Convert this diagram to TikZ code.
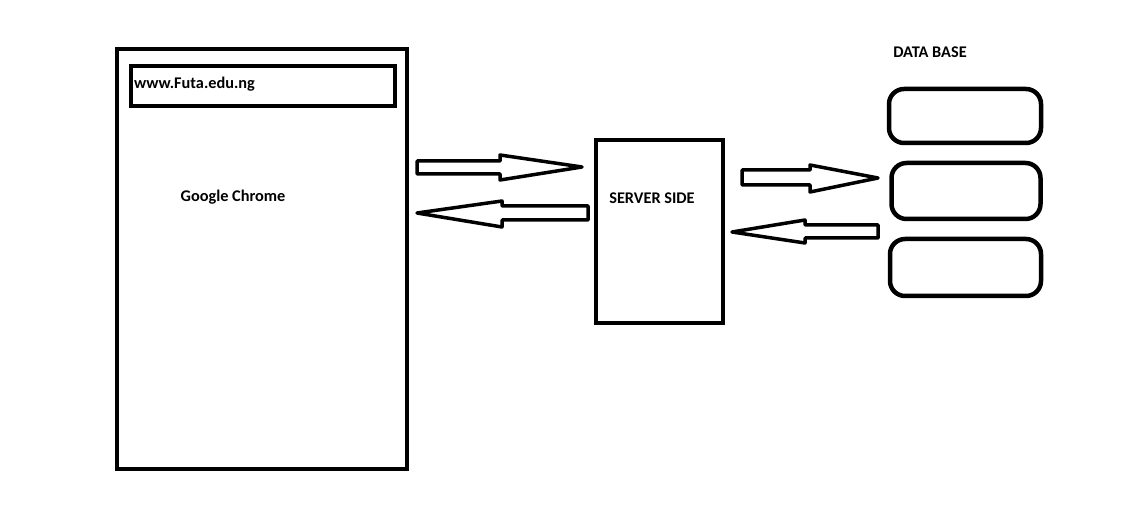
\documentclass[tikz,border=0pt]{standalone}
\usepackage{fontspec}
\setmainfont{Carlito}
\usepackage{tikz}

\tikzset{
  box/.style={draw, line width=4pt, rectangle, inner sep=0pt},
  dbbox/.style={draw, line width=4.5pt, rectangle, rounded corners=15pt, inner sep=0pt},
  lbl/.style={font=\fontsize{16.3}{19}\selectfont\bfseries, inner sep=0pt},
  fat/.style={draw, line width=3.5pt, line join=round}
}

\begin{document}
\begin{tikzpicture}[x=1pt, y=-1pt]
      \useasboundingbox (0,0) rectangle (1122,518);

      % browser window
      \node[box, minimum width=290pt, minimum height=420pt] (browser) at (262,259) {};
      \node[box, minimum width=264pt, minimum height=40pt] (urlbar) at (263,86) {};
      \node[lbl, anchor=west] (url) at (134,84) {www.Futa.edu.ng};
      \node[lbl] (chrome) at (233,197) {Google Chrome};

      % server
      \node[box, minimum width=127pt, minimum height=183pt] (server) at (659,231.5) {};
      \node[lbl] (servertext) at (652,198) {SERVER SIDE};

      % data base
      \node[lbl] (dbtext) at (930,52) {DATA BASE};
      \foreach \i/\x/\y/\w/\h in {1/965/116/152/54, 2/966/191/149/56, 3/965.5/267.5/151/57}
      {
        \node[dbbox, minimum width=\w pt, minimum height=\h pt] (db\i) at (\x,\y) {};
      }

      % block arrows: tail x / head x / tip x / shaft top / shaft bottom / head top / head bottom / tip y
      \foreach \tx/\hx/\px/\st/\sb/\ht/\hb/\py in
        {417/500/582/161/174/155/180/167, 588/502/417/206/220/201/227/213,
         742/810/878/170/185/165/192/178, 878/805/732/225/238/220/243/232}
      {
        \draw[fat] (\tx,\st) -- (\hx,\st) -- (\hx,\ht) -- (\px,\py)
          -- (\hx,\hb) -- (\hx,\sb) -- (\tx,\sb) -- cycle;
      }
\end{tikzpicture}
\end{document}
